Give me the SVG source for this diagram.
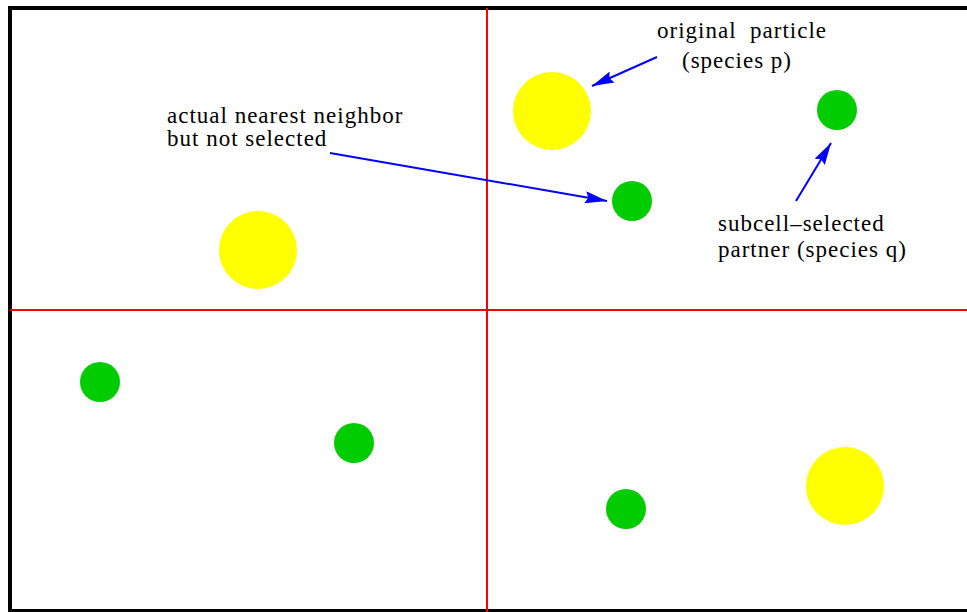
<svg xmlns="http://www.w3.org/2000/svg" width="967" height="612" viewBox="0 0 967 612">
<defs>
<marker id="ah" markerWidth="22" markerHeight="12" refX="22" refY="6" orient="auto" markerUnits="userSpaceOnUse">
<path d="M0,0 L22,6 L0,12 L3,6 Z" fill="#0000ff"/>
</marker>
<style>
.grid{stroke:#ff0000;stroke-width:2;fill:none}
.big{fill:#ffff00}
.small{fill:#00cc00}
.arr{stroke:#0000ff;stroke-width:2;fill:none;marker-end:url(#ah)}
text{font-family:"Liberation Serif","Times New Roman",serif;font-size:23px;letter-spacing:1px;fill:#000}
</style>
</defs>
<rect x="0" y="0" width="967" height="612" fill="#fff"/>
<rect x="10" y="8" width="962" height="603" fill="none" stroke="#000" stroke-width="4"/>
<g id="grid">
<line class="grid" x1="487" y1="8" x2="487" y2="612"/>
<line class="grid" x1="10" y1="310" x2="967" y2="310"/>
</g>
<g id="p1"><circle class="big" cx="552" cy="111" r="39"/></g>
<g id="p2"><circle class="big" cx="258" cy="250" r="39"/></g>
<g id="p3"><circle class="big" cx="845" cy="486" r="39"/></g>
<g id="q1"><circle class="small" cx="837" cy="110" r="20"/></g>
<g id="q2"><circle class="small" cx="632" cy="201" r="20"/></g>
<g id="q3"><circle class="small" cx="100" cy="382" r="20"/></g>
<g id="q4"><circle class="small" cx="354" cy="443" r="20"/></g>
<g id="q5"><circle class="small" cx="626" cy="509" r="20"/></g>
<g id="label-original"><text x="657" y="38" xml:space="preserve">original  particle</text><text x="682" y="68">(species p)</text></g>
<g id="label-nearest"><text x="167" y="123">actual nearest neighbor</text><text x="167" y="146">but not selected</text></g>
<g id="label-subcell"><text x="718" y="231">subcell–selected</text><text x="718" y="257">partner (species q)</text></g>
<g id="connectors">
<line class="arr" x1="657" y1="57" x2="592" y2="86"/>
<line class="arr" x1="330" y1="153" x2="607" y2="201"/>
<line class="arr" x1="796" y1="201" x2="831" y2="143"/>
</g>
</svg>
